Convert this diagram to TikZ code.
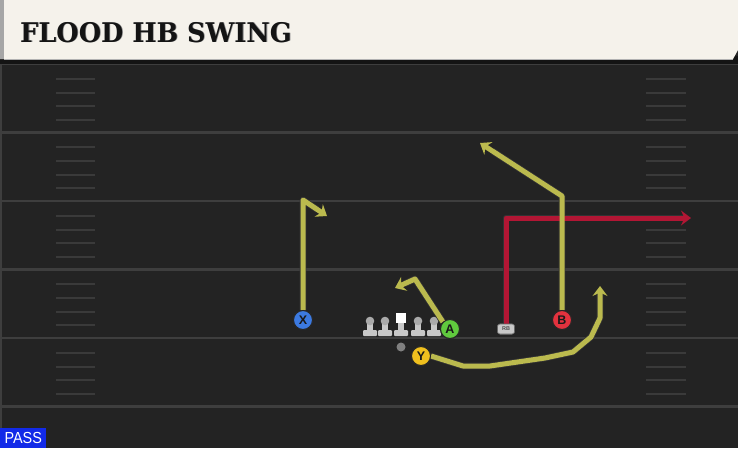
\documentclass[tikz,border=0pt]{standalone}
\usepackage{fontspec}
\setmainfont{DejaVu Sans}
\newfontfamily\titlefont{DejaVu Serif}
\newfontfamily\labfont{Liberation Sans}
\usetikzlibrary{arrows.meta,calc}
\definecolor{fieldbg}{RGB}{35,35,35}
\definecolor{bannerbg}{RGB}{245,242,235}
\definecolor{yardline}{RGB}{62,62,62}
\definecolor{hashc}{RGB}{58,58,58}
\definecolor{olive}{RGB}{187,186,78}
\definecolor{redroute}{RGB}{178,22,52}
\definecolor{pblue}{RGB}{60,122,225}
\definecolor{pgreen}{RGB}{96,202,62}
\definecolor{pyellow}{RGB}{240,192,30}
\definecolor{pred}{RGB}{226,50,62}
\definecolor{lmgray}{RGB}{200,200,200}
\definecolor{lmhead}{RGB}{170,170,170}
\definecolor{passblue}{RGB}{18,42,232}
\tikzset{
  player/.style={circle, draw=black!85, line width=1pt, minimum size=19pt, inner sep=0pt,
    font=\labfont\bfseries\fontsize{12.5}{12.5}\selectfont, text=black!90},
  routebase/.style={line width=5pt, line join=round,
    -{Stealth[length=10pt,width=15pt,inset=3.5pt]}},
  route/.style={routebase, draw=olive},
  redline/.style={routebase, draw=redroute},
  underlay/.style={line width=6.6pt, line join=round, draw=black!80},
  rbbox/.style={rectangle, rounded corners=2.5pt, fill=lmgray, draw=black!60, line width=0.6pt,
    minimum width=17pt, minimum height=10pt, inner sep=0pt,
    font=\labfont\bfseries\fontsize{5.5}{5.5}\selectfont, text=black!70},
  hashmark/.style={draw=hashc, line width=2pt},
  lineman/.pic={
    \fill[lmgray] (-2.8,-8) rectangle (2.8,2);
    \fill[lmgray, rounded corners=1pt] (-7,1) rectangle (7,7);
    \fill[lmhead] (0,-8) circle (4.3);
  },
  centerman/.pic={
    \fill[lmgray] (-2.8,-8) rectangle (2.8,2);
    \fill[lmgray, rounded corners=1pt] (-7,1) rectangle (7,7);
    \fill[white] (-5,-16) rectangle (5,-6);
  }
}
\begin{document}
\begin{tikzpicture}[x=1pt,y=-1pt]
\useasboundingbox (0,0) rectangle (738,448);
\fill[fieldbg] (0,0) rectangle (738,448);
% field edges
\fill[yardline] (0,64) rectangle (2,448);
% yard lines
\foreach \yy in {64,132.5,201,269.5,338,406.5}{
  \draw[yardline, line width=2.2pt] (0,\yy) -- (738,\yy);
}
% hash marks
\foreach \yy in {64,132.5,201,269.5,338}{
  \foreach \off in {14.5,28.5,42,55.5}{
    \draw[hashmark] (56,\yy+\off) -- (95,\yy+\off);
    \draw[hashmark] (646,\yy+\off) -- (686,\yy+\off);
  }
}
% banner
\fill[black!92] (0,56) rectangle (738,64);
\fill[bannerbg] (0,0) -- (738,0) -- (738,50) -- (733,59) -- (0,59) -- cycle;
\fill[black!35] (0,0) rectangle (4,59);
\draw[black!30, line width=1pt] (4,59) -- (733,59);
\node[anchor=base west, inner sep=0pt, text=black!45] (titleshadow) at (20.8,42.8)
  {\titlefont\bfseries\fontsize{27}{27}\selectfont\scalebox{0.95}[1]{FLOOD HB SWING}};
\node[anchor=base west, inner sep=0pt, text=black!92] (title) at (20,42)
  {\titlefont\bfseries\fontsize{27}{27}\selectfont\scalebox{0.95}[1]{FLOOD HB SWING}};
% PASS label
\node[anchor=south west, fill=passblue, text=white, inner sep=0pt, minimum width=46pt,
  minimum height=20pt, font=\labfont\fontsize{16}{16}\selectfont] (pass) at (0,448)
  {\scalebox{0.9}[1]{PASS}};
% linemen
\pic at (370,329) {lineman};
\pic at (385,329) {lineman};
\pic at (401,329) {centerman};
\pic at (418,329) {lineman};
\pic at (434,329) {lineman};
% QB dot
\node[circle, fill=black!50, minimum size=9pt, inner sep=0pt] (qb) at (401,347) {};
% waypoints
\coordinate (x1) at (303,200);
\coordinate (x2) at (327,216);
\coordinate (b1) at (562,196);
\coordinate (b2) at (480,143);
\coordinate (a1) at (415,279);
\coordinate (a2) at (395,288);
\coordinate (r1) at (506,218);
\coordinate (r2) at (691,218);
\coordinate (y1) at (463,366);
\coordinate (y2) at (490,366);
\coordinate (y3) at (545,358);
\coordinate (y4) at (573,352);
\coordinate (y5) at (591,337);
\coordinate (y6) at (600,318);
\coordinate (y7) at (600,286);
% players
\node[player, fill=pblue] (X) at (303,320) {X};
\node[player, fill=pgreen] (A) at (450,329) {A};
\node[player, fill=pyellow] (Y) at (421,356) {Y};
\node[player, fill=pred] (B) at (562,320) {B};
\node[rbbox] (RB) at (506,329) {RB};
% route outlines
\draw[underlay] (RB.north) -- (r1) -- ($(r2)+(-8,0)$);
\draw[underlay] (X.north) -- (x1) -- ($(x1)!0.6!(x2)$);
\draw[underlay] (B.north) -- (b1) -- ($(b1)!0.85!(b2)$);
\draw[underlay] (A.north west) -- (a1) -- ($(a1)!0.5!(a2)$);
\draw[underlay] (Y.east) -- (y1) -- (y2) -- (y3) -- (y4) -- (y5) -- (y6) -- ($(y7)+(0,8)$);
% routes
\draw[redline] (RB.north) -- (r1) -- (r2);
\draw[route] (X.north) -- (x1) -- (x2);
\draw[route] (B.north) -- (b1) -- (b2);
\draw[route] (A.north west) -- (a1) -- (a2);
\draw[route] (Y.east) -- (y1) -- (y2) -- (y3) -- (y4) -- (y5) -- (y6) -- (y7);
% redraw players on top
\node[player, fill=pblue] at (X) {X};
\node[player, fill=pgreen] at (A) {A};
\node[player, fill=pyellow] at (Y) {Y};
\node[player, fill=pred] at (B) {B};
\node[rbbox] at (RB) {RB};
\end{tikzpicture}
\end{document}
